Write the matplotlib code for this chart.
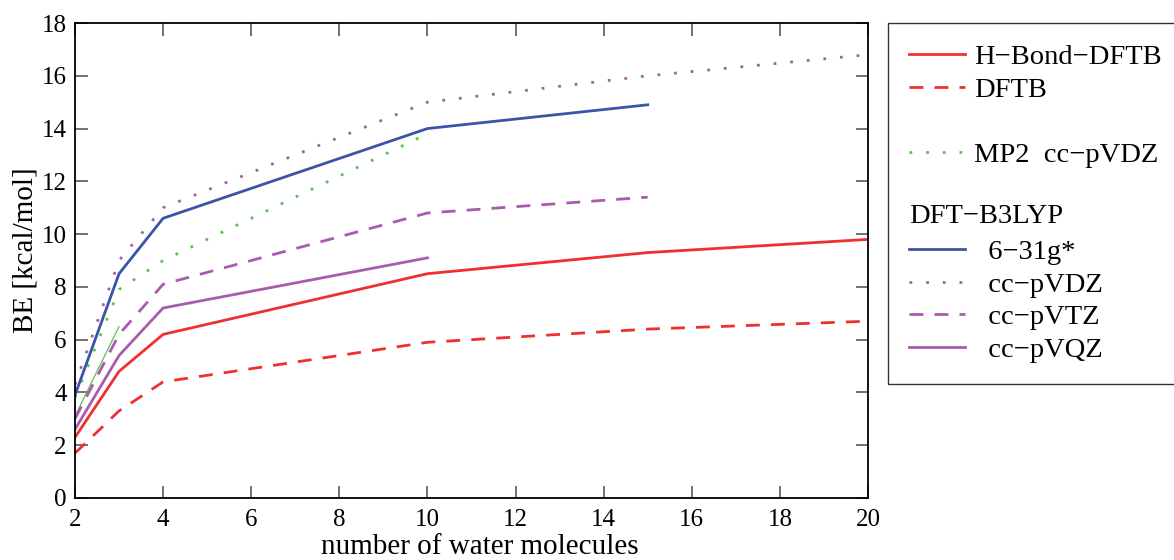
import matplotlib
matplotlib.use("Agg")
import matplotlib.pyplot as plt
from matplotlib.lines import Line2D
from matplotlib.legend_handler import HandlerBase
from matplotlib.text import Text

plt.rcParams['font.family'] = ['Liberation Serif', 'DejaVu Serif']

# binding energies [kcal/mol] vs number of water molecules
n_hbond = [2, 3, 4, 10, 15, 20]
be_hbond_dftb = [2.3, 4.8, 6.2, 8.5, 9.3, 9.8]
n_dftb = [2, 3, 4, 10, 15, 20]
be_dftb = [1.7, 3.3, 4.4, 5.9, 6.4, 6.7]
n_mp2 = [2, 3, 4, 10]
be_mp2_vdz = [3.8, 7.9, 9.0, 13.8]
n_mp2_thin = [2, 3]
be_mp2_thin = [3.1, 6.5]
n_631g = [2, 3, 4, 10, 15]
be_b3lyp_631g = [3.9, 8.5, 10.6, 14.0, 14.9]
n_vdz = [2, 3, 4, 10, 15, 20]
be_b3lyp_vdz = [4.3, 9.0, 11.0, 15.0, 16.0, 16.8]
n_vtz = [2, 3, 4, 10, 15]
be_b3lyp_vtz = [3.0, 6.2, 8.1, 10.8, 11.4]
n_vqz = [2, 3, 4, 10]
be_b3lyp_vqz = [2.6, 5.4, 7.2, 9.1]

RED = '#ee3030'
BLUE = '#3a55a8'
PURPLE = '#a95cae'
GREEN = '#5cc24e'
DASH = (0, (5, 4))
DOT = (0, (1.0, 5))


class TextHandler(HandlerBase):
    """Legend row that shows only a heading, starting where the handles start."""
    def __init__(self, text, **kw):
        super().__init__(**kw)
        self.text = text

    def create_artists(self, legend, orig_handle, xdescent, ydescent,
                       width, height, fontsize, trans):
        t = Text(-xdescent, height / 2 - ydescent, self.text, fontsize=fontsize,
                 va='center', ha='left', transform=trans)
        return [t]


fig = plt.figure(figsize=(11.74, 5.6), dpi=100)
ax = fig.add_axes([75 / 1174, 1 - 498 / 560, (868 - 75) / 1174, (498 - 23) / 560])

lw = 2.0
h1, = ax.plot(n_hbond, be_hbond_dftb, color=RED, lw=lw)
h2, = ax.plot(n_dftb, be_dftb, color=RED, lw=lw, linestyle=DASH)
h3, = ax.plot(n_mp2, be_mp2_vdz, color=GREEN, lw=lw, linestyle=DOT)
ax.plot(n_mp2_thin, be_mp2_thin, color=GREEN, lw=0.9)
h4, = ax.plot(n_631g, be_b3lyp_631g, color=BLUE, lw=lw)
h5, = ax.plot(n_vdz, be_b3lyp_vdz, color=PURPLE, lw=lw, linestyle=DOT)
h6, = ax.plot(n_vtz, be_b3lyp_vtz, color=PURPLE, lw=lw, linestyle=DASH)
h7, = ax.plot(n_vqz, be_b3lyp_vqz, color=PURPLE, lw=lw)

ax.set_xlim(2, 20)
ax.set_ylim(0, 18)
ax.set_xticks(range(2, 21, 2))
ax.set_yticks(range(0, 19, 2))
ax.tick_params(direction='in', top=True, right=True, length=9, width=1.3,
               color='#666666', labelsize=18)
ax.tick_params(axis='x', pad=8)
ax.tick_params(axis='y', pad=6)
for sp in ax.spines.values():
    sp.set_linewidth(1.3)
ax.set_xlabel('number of water molecules', fontsize=21, labelpad=2)
ax.set_ylabel('BE [kcal/mol]', fontsize=21, labelpad=2)
ax.xaxis.set_label_coords(0.51, -0.075)
ax.yaxis.label.set_y(0.522)

blank = Line2D([], [], color='none')
heading = Line2D([], [], color='none')
handles = [h1, h2, blank, h3, blank, heading, h4, h5, h6, h7]
labels = ['H\u2212Bond\u2212DFTB', 'DFTB', ' ', 'MP2  cc\u2212pVDZ', ' ', '',
          '  6\u221231g*', '  cc\u2212pVDZ', '  cc\u2212pVTZ', '  cc\u2212pVQZ']
leg = fig.legend(handles, labels, loc='upper left',
                 bbox_to_anchor=(888 / 1174, 1 - 23 / 560),
                 borderaxespad=0, fontsize=20.5, frameon=True, fancybox=False,
                 edgecolor='black', handlelength=1.95, handletextpad=0.32,
                 labelspacing=0.23, borderpad=0.75,
                 handler_map={heading: TextHandler('DFT\u2212B3LYP')})
leg.get_frame().set_linewidth(1.0)

fig.savefig('out.png', dpi=100)
